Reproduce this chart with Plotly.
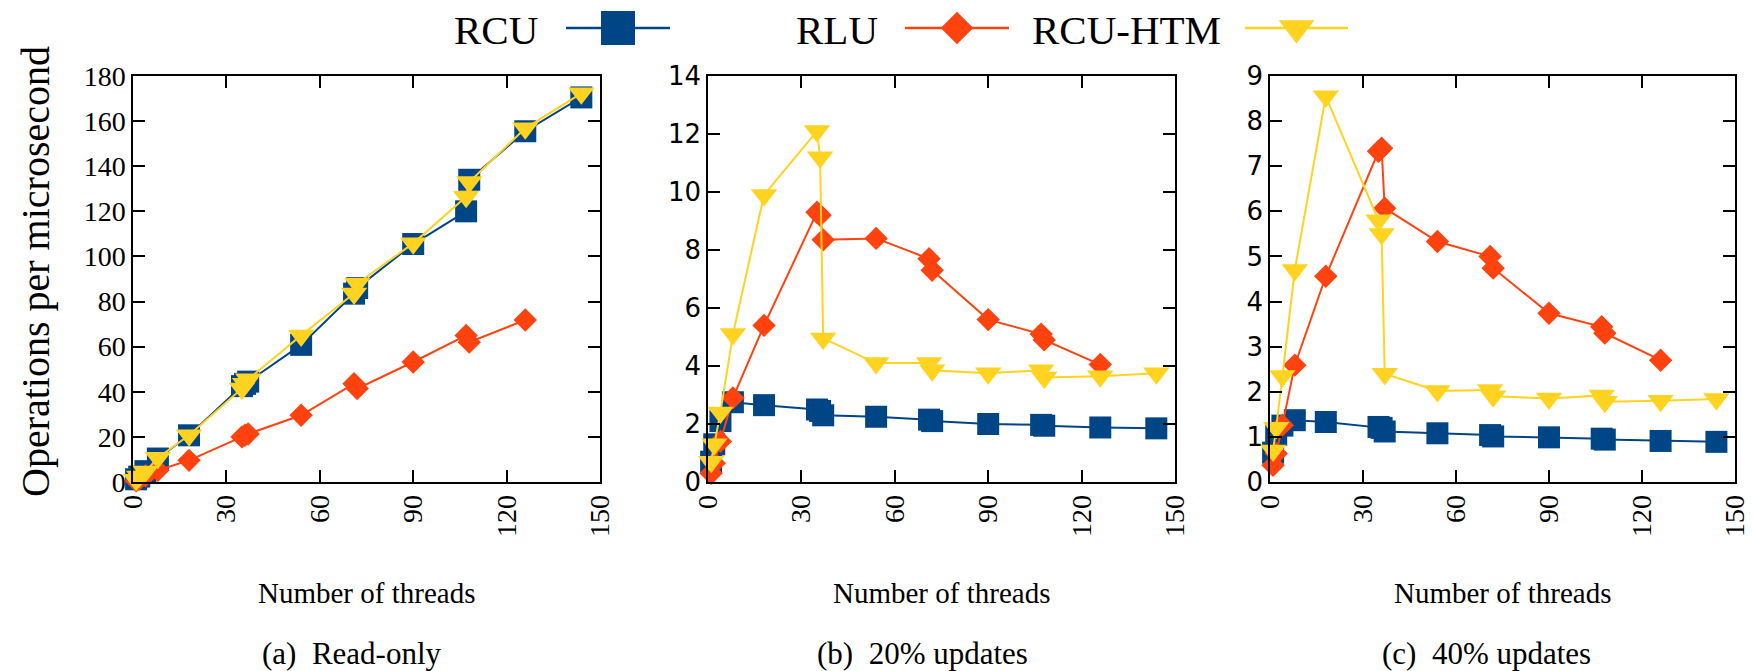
import plotly.graph_objects as go

# ---------------- data ----------------
threads = [1, 2, 4, 8, 18, 35, 36, 37, 54, 71, 72, 90, 107, 108, 126, 144]
threads_rlu = [1, 2, 4, 8, 18, 35, 36, 37, 54, 71, 72, 90, 107, 108, 126]

# (a) Read-only
ro_rcu = [1.2, 2.4, 4.8, 10.4, 20.7, 42.5, 43.5, 44.5, 60.8, 83.5, 86, 105.5, 120, 134, 155.5, 170.5]
ro_rlu = [0.5, 1.3, 2.8, 5.2, 9.6, 20, 20.7, 21.3, 29.6, 43.6, 41.4, 53.2, 65, 62, 71.8]
ro_htm = [1.0, 2.4, 4.6, 10.8, 20.7, 41.5, 43.6, 45.5, 65, 83.6, 88, 105.8, 126.5, 133, 156.8, 172.3]

# (b) 20% updates
u20_rcu = [0.7, 1.3, 2.1, 2.75, 2.65, 2.5, 2.45, 2.3, 2.25, 2.15, 2.1, 2.0, 1.97, 1.94, 1.88, 1.85]
u20_rlu = [0.3, 0.65, 1.4, 2.9, 5.4, 9.3, 9.2, 8.35, 8.4, 7.7, 7.3, 5.6, 5.1, 4.9, 4.05]
u20_htm = [0.7, 1.3, 2.4, 5.1, 9.9, 12.1, 11.2, 4.95, 4.1, 4.1, 3.85, 3.75, 3.85, 3.6, 3.65, 3.75]

# (c) 40% updates
u40_rcu = [0.65, 1.05, 1.25, 1.37, 1.33, 1.22, 1.2, 1.12, 1.08, 1.04, 1.01, 0.99, 0.96, 0.94, 0.91, 0.89]
u40_rlu = [0.37, 0.63, 1.26, 2.59, 4.56, 7.33, 7.4, 6.07, 5.33, 5.0, 4.74, 3.74, 3.44, 3.3, 2.7]
u40_htm = [0.7, 1.2, 2.35, 4.7, 8.55, 5.8, 5.5, 2.4, 2.02, 2.04, 1.9, 1.85, 1.92, 1.78, 1.8, 1.84]

series_names = ["RCU", "RLU", "RCU-HTM"]
captions = ["(a)\u2002Read-only", "(b)\u200220% updates", "(c)\u200240% updates"]
x_title = "Number of threads"
y_title = "Operations per microsecond"
x_ticks = [0, 30, 60, 90, 120, 150]
y_ranges = [(0, 180, 20), (0, 14, 2), (0, 9, 1)]

# ---------------- layout / style ----------------
W, H = 1754, 671
def fx(p):
    return p / W
def fy(p):
    return 1 - p / H

PANELS = [(133, 600), (708, 1175), (1270, 1735)]
TOP, BOTTOM = 76, 482
CAPTION_X = [351.7, 922.5, 1486]

COLORS = ["#004586", "#ff420e", "#ffd320"]
SYMBOLS = ["square", "diamond", "triangle-down"]
SIZES = [22, 18, 23]
LEG_SIZES = [34, 25, 31]
LEG_TEXT_RIGHT = [540, 880, 1223]
LEG_LINE = [(566, 670), (905, 1009), (1245, 1348)]
LEG_Y = 28

SERIF = "Liberation Serif, Times New Roman, serif"
SANS = "DejaVu Sans, sans-serif"

panel_data = [
    [(threads, ro_rcu), (threads_rlu, ro_rlu), (threads, ro_htm)],
    [(threads, u20_rcu), (threads_rlu, u20_rlu), (threads, u20_htm)],
    [(threads, u40_rcu), (threads_rlu, u40_rlu), (threads, u40_htm)],
]

fig = go.Figure()
for p, pdata in enumerate(panel_data):
    ax = "" if p == 0 else str(p + 1)
    for s, (xs, ys) in enumerate(pdata):
        fig.add_trace(go.Scatter(
            x=xs, y=ys, mode="lines+markers",
            name=series_names[s], showlegend=False,
            line=dict(color=COLORS[s], width=2),
            marker=dict(symbol=SYMBOLS[s], size=SIZES[s], color=COLORS[s], line=dict(width=0)),
            xaxis="x" + ax, yaxis="y" + ax, cliponaxis=False,
        ))

# custom legend (label left of key, as in the reference) on an overlay axis in pixel units
for s in range(3):
    x0, x1 = LEG_LINE[s]
    fig.add_trace(go.Scatter(
        x=[x0, x1], y=[LEG_Y, LEG_Y], mode="lines", showlegend=False,
        line=dict(color=COLORS[s], width=2.5), xaxis="x4", yaxis="y4", hoverinfo="skip"))
    fig.add_trace(go.Scatter(
        x=[(x0 + x1) / 2], y=[LEG_Y], mode="markers", showlegend=False,
        marker=dict(symbol=SYMBOLS[s], size=LEG_SIZES[s], color=COLORS[s], line=dict(width=0)),
        xaxis="x4", yaxis="y4", hoverinfo="skip"))

layout = dict(
    width=W, height=H,
    margin=dict(l=0, r=0, t=0, b=0, pad=0, autoexpand=False),
    paper_bgcolor="white", plot_bgcolor="rgba(0,0,0,0)",
    showlegend=False,
    xaxis4=dict(domain=[0, 1], range=[0, W], visible=False, fixedrange=True,
                anchor="y4", automargin=False),
    yaxis4=dict(domain=[0, 1], range=[H, 0], visible=False, fixedrange=True,
                anchor="x4", automargin=False),
)

annotations = []
for p in range(3):
    ax = "" if p == 0 else str(p + 1)
    left, right = PANELS[p]
    ymin, ymax, dy = y_ranges[p]
    yfont = SERIF if p == 0 else SANS
    yfs = 28 if p == 0 else 26
    common = dict(showline=True, linecolor="black", linewidth=1.5, mirror="ticks",
                  ticks="inside", ticklen=12, tickwidth=1.5, tickcolor="black",
                  showgrid=False, zeroline=False, automargin=False)
    layout["xaxis" + ax] = dict(
        domain=[fx(left), fx(right)], range=[0, 150], tickmode="array", tickvals=x_ticks,
        tickangle=-90, tickfont=dict(family=SERIF, size=28, color="black"),
        anchor="y" + ax, **common)
    layout["yaxis" + ax] = dict(
        domain=[fy(BOTTOM), fy(TOP)], range=[ymin, ymax], dtick=dy, tick0=0,
        tickfont=dict(family=yfont, size=yfs, color="black"),
        anchor="x" + ax, **common)
    cx = (left + right) / 2
    annotations.append(dict(text=x_title, x=fx(cx), y=fy(593), xref="paper", yref="paper",
                            xanchor="center", yanchor="middle", showarrow=False,
                            font=dict(family=SERIF, size=29, color="black")))
    annotations.append(dict(text=captions[p], x=fx(CAPTION_X[p]), y=fy(653), xref="paper", yref="paper",
                            xanchor="center", yanchor="middle", showarrow=False,
                            font=dict(family=SERIF, size=31, color="black")))

annotations.append(dict(text=y_title, x=fx(35), y=fy(272), xref="paper", yref="paper",
                        xanchor="center", yanchor="middle", textangle=-90, showarrow=False,
                        font=dict(family=SERIF, size=40, color="black")))
for s in range(3):
    annotations.append(dict(text=series_names[s], x=fx(LEG_TEXT_RIGHT[s]), y=fy(LEG_Y + 2),
                            xref="paper", yref="paper", xanchor="right", yanchor="middle",
                            showarrow=False, font=dict(family=SERIF, size=41, color="black")))

layout["annotations"] = annotations
fig.update_layout(**layout)
fig.write_html("out.html", config={"displayModeBar": False},
               post_script="document.body.style.margin='0px';")
